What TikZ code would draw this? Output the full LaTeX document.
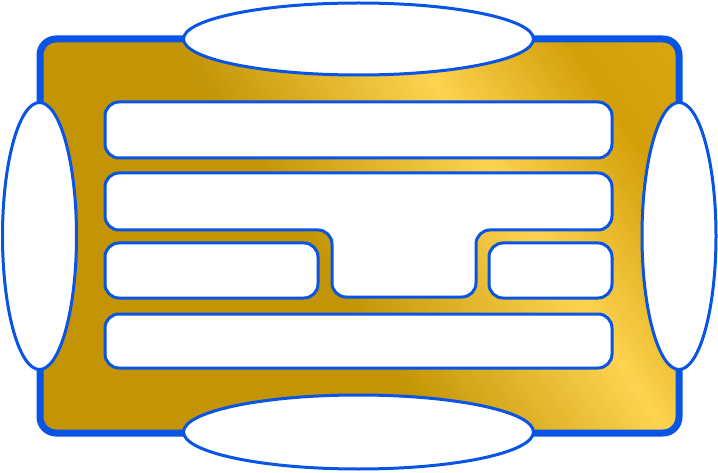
\documentclass[tikz,border=0pt]{standalone}
\usepackage{tikz}
\usepackage{xcolor}
\usetikzlibrary{positioning,shapes.geometric}

\definecolor{rimblue}{RGB}{8,84,228}
\definecolor{golddark}{RGB}{195,148,5}
\definecolor{goldlight}{RGB}{253,210,79}
\definecolor{goldmid}{RGB}{212,160,10}
\definecolor{goldend}{RGB}{222,170,20}

\begin{document}
\begin{tikzpicture}[x=1pt, y=1pt,
    slot/.style={rectangle, draw=rimblue, fill=white, line width=3pt, rounded corners=14pt, inner sep=0pt, outer sep=0pt},
    oval/.style={ellipse, draw=rimblue, fill=white, line width=3pt, inner sep=0pt, outer sep=0pt}]
      \useasboundingbox (0,0) rectangle (718,472);
      % gold plate, banded by hand
      \begin{scope}
        \clip [rounded corners=16pt] (40,39) rectangle (679,433);
        \begin{scope}[rotate=33.5]
          \fill [golddark] (-100,-400) rectangle (381,400);
          \foreach \u in {380,384,...,572} {
            \pgfmathtruncatemacro\p{(\u-380)/192*100}
            \fill [goldlight!\p!golddark] (\u,-400) rectangle +(4.6,800);
          }
          \foreach \u in {576,580,...,708} {
            \pgfmathtruncatemacro\p{(\u-576)/132*100}
            \fill [goldmid!\p!goldlight] (\u,-400) rectangle +(4.6,800);
          }
          \foreach \u in {712,716,...,860} {
            \pgfmathtruncatemacro\p{(\u-712)/148*100}
            \fill [goldend!\p!goldmid] (\u,-400) rectangle +(4.6,800);
          }
        \end{scope}
      \end{scope}
      \draw [rimblue, line width=7pt, rounded corners=16pt] (40,39) rectangle (679,433);
      % slots
      \node [slot, minimum width=507pt, minimum height=56pt] (row1) at (358.5,342) {};
      \draw [rimblue, fill=white, line width=3pt, rounded corners=14pt]
            (105,270) -- (105,299) -- (612,299) -- (612,242) -- (476,242) -- (476,175)
            -- (332,175) -- (332,242) -- (105,242) -- cycle;
      \node [slot, minimum width=213pt, minimum height=55pt] (row3l) at (211.5,201.5) {};
      \node [slot, minimum width=123pt, minimum height=55pt] (row3r) at (550.5,201.5) {};
      \node [slot, minimum width=507pt, minimum height=54pt] (row4) at (358.5,131) {};
      % ovals
      \node [oval, minimum width=350pt, minimum height=72pt] (ovtop) at (358.5,433) {};
      \node [oval, minimum width=350pt, minimum height=74pt] (ovbot) at (358.5,40) {};
      \node [oval, minimum width=74pt, minimum height=267pt] (ovleft) at (39.5,236) {};
      \node [oval, minimum width=74pt, minimum height=267pt] (ovright) at (679,236) {};
\end{tikzpicture}
\end{document}
